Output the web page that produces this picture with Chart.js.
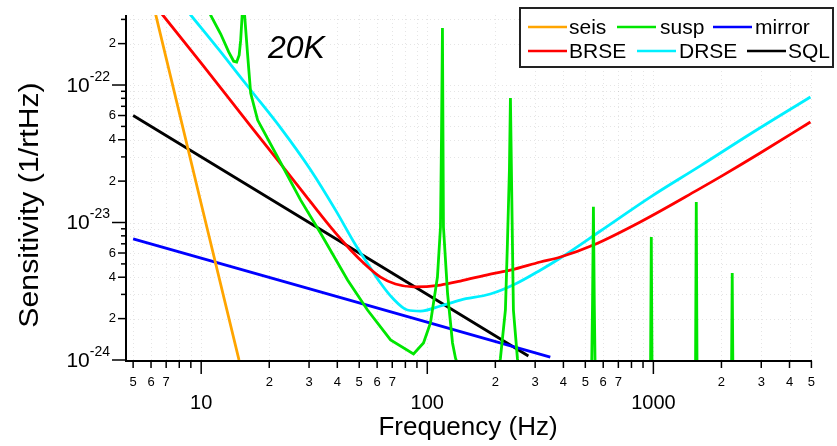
<!DOCTYPE html>
<html><head><meta charset="utf-8">
<script src="https://cdn.jsdelivr.net/npm/chart.js@4.4.1/dist/chart.umd.min.js"></script>
<style>html,body{margin:0;padding:0;background:#fff}#wrap{width:837px;height:446px;position:relative}</style>
</head><body><div id="wrap"><canvas id="c"></canvas></div>
<script>
// ---- data ----
const seisFreq = [6.0, 10, 14.7];
const seisVal  = [4.5e-22, 1.37e-23, 1.0e-24];

const suspFreq = [10.7, 11.0, 12.2, 13.23, 13.92, 14.35, 14.72, 14.95, 15.18, 15.37, 15.56, 16.05, 16.55, 17.77, 22.5, 27.5, 33.7, 44.4, 54.4, 68.8, 86.9, 96.2, 103.3, 110.9, 114.4, 115.5, 116.7, 117.9, 122.9, 129.3, 133.3, 150, 200, 210.6, 221.6, 226.2, 230.8, 233.2, 238.0, 240.4, 250.4, 270, 530, 538, 543, 548, 556, 969, 979, 989, 1533, 1548, 1563, 2210, 2232, 2254, 3000];
const suspVal  = [4.0e-22, 3.23e-22, 2.35e-22, 1.74e-22, 1.49e-22, 1.47e-22, 1.65e-22, 2.12e-22, 3.23e-22, 2.0e-21, 3.23e-22, 1.65e-22, 8.75e-23, 5.56e-23, 2.71e-23, 1.46e-23, 8.39e-24, 3.82e-24, 2.31e-24, 1.40e-24, 1.105e-24, 1.33e-24, 1.86e-24, 4.01e-24, 9.27e-24, 3.79e-23, 2.6e-22, 9.27e-24, 3.07e-24, 1.33e-24, 1.03e-24, 6e-25, 6e-25, 1.03e-24, 2.31e-24, 7.1e-24, 2.41e-23, 8.04e-23, 7.1e-24, 2.31e-24, 1.03e-24, 4e-25, 4e-25, 2.5e-24, 1.30e-23, 2.5e-24, 4e-25, 4e-25, 7.85e-24, 4e-25, 4e-25, 1.41e-23, 4e-25, 4e-25, 4.29e-24, 4e-25, 4e-25];

const mirrorFreq = [5, 50, 350];
const mirrorVal  = [7.6e-24, 2.6e-24, 1.05e-24];

const brseFreq = [6.5, 6.76, 10, 16.55, 27.5, 37.3, 45.8, 53.4, 62.1, 72.3, 86.9, 114.4, 140, 190, 233, 316, 388, 543, 875, 1563, 2037, 2968, 4950];
const brseVal  = [3.5e-22, 3.23e-22, 1.44e-22, 5.03e-23, 1.75e-23, 9.28e-24, 6.31e-24, 4.91e-24, 4.01e-24, 3.57e-24, 3.40e-24, 3.51e-24, 3.75e-24, 4.22e-24, 4.5e-24, 5.16e-24, 5.61e-24, 6.86e-24, 1.01e-23, 1.72e-23, 2.21e-23, 3.20e-23, 5.38e-23];

const drseFreq = [8.5, 8.99, 12.2, 16.55, 22.5, 30.5, 39.3, 48.2, 55.0, 62.1, 70.2, 81.7, 93.3, 114.4, 140, 190, 245, 316, 388, 583, 969, 1612, 2681, 4950];
const drseVal  = [3.62e-22, 3.23e-22, 1.74e-22, 9.2e-23, 4.86e-23, 2.41e-23, 1.23e-23, 6.86e-24, 4.91e-24, 3.63e-24, 2.82e-24, 2.31e-24, 2.27e-24, 2.47e-24, 2.73e-24, 3.02e-24, 3.57e-24, 4.5e-24, 5.52e-24, 8.67e-24, 1.53e-23, 2.58e-23, 4.40e-23, 8.18e-23];

const sqlFreq = [5, 50, 280];
const sqlVal  = [6.0e-23, 6.0e-24, 1.07e-24];

const seriesNames  = ['seis', 'susp', 'mirror', 'BRSE', 'DRSE', 'SQL'];
const seriesColors = ['#ffa500', '#00e600', '#0000ff', '#ff0000', '#00f0ff', '#000000'];

const xTickValues = [5,6,7,8,9,10,20,30,40,50,60,70,80,90,100,200,300,400,500,600,700,800,900,1000,2000,3000,4000,5000];
const xTickText   = ['5','6','7','','','10','2','3','4','5','6','7','','','100','2','3','4','5','6','7','','','1000','2','3','4','5'];
const yTickValues = [1e-24,2e-24,3e-24,4e-24,5e-24,6e-24,7e-24,8e-24,9e-24,1e-23,2e-23,3e-23,4e-23,5e-23,6e-23,7e-23,8e-23,9e-23,1e-22,2e-22,3e-22];
const yTickText   = ['10|-24','2','','4','','6','','','','10|-23','2','','4','','6','','','','10|-22','2',''];

const xTitle = 'Frequency (Hz)';
const yTitle = 'Sensitivity (1/rtHz)';
const noteText = '20K';

// ---- build datasets ----
function pts(f, v){ return f.map((x,i)=>({x:x, y:v[i]})); }
const allF = [seisFreq, suspFreq, mirrorFreq, brseFreq, drseFreq, sqlFreq];
const allV = [seisVal, suspVal, mirrorVal, brseVal, drseVal, sqlVal];
const datasets = seriesNames.map((n,i)=>({
  label: n,
  data: pts(allF[i], allV[i]),
  borderColor: seriesColors[i],
  backgroundColor: seriesColors[i],
  borderWidth: 2.8,
  pointRadius: 0,
  fill: false,
  tension: 0,
  cubicInterpolationMode: (n==='BRSE'||n==='DRSE') ? 'monotone' : 'default'
}));

const FONT = '"Liberation Sans", Arial, Helvetica, sans-serif';

const decor = {
  id: 'decor',
  beforeDatasetsDraw(chart){
    const {ctx, chartArea:a, scales:{x, y}} = chart;
    ctx.save();
    ctx.strokeStyle = 'rgba(0,0,0,0.10)';
    ctx.lineWidth = 1;
    ctx.setLineDash([1,3]);
    xTickValues.forEach(v=>{
      const p = Math.round(x.getPixelForValue(v))+0.5;
      if (p <= a.left+1 || p >= a.right) return;
      ctx.beginPath(); ctx.moveTo(p, a.top); ctx.lineTo(p, a.bottom); ctx.stroke();
    });
    yTickValues.forEach(v=>{
      const p = Math.round(y.getPixelForValue(v))+0.5;
      if (p >= a.bottom-1 || p <= a.top) return;
      ctx.beginPath(); ctx.moveTo(a.left, p); ctx.lineTo(a.right, p); ctx.stroke();
    });
    ctx.restore();
  },
  afterDatasetsDraw(chart){
    const {ctx, chartArea:a, scales:{x, y}} = chart;
    ctx.save();
    // axes
    ctx.strokeStyle = '#000'; ctx.lineWidth = 2; ctx.setLineDash([]);
    ctx.beginPath();
    ctx.moveTo(a.left, a.top); ctx.lineTo(a.left, a.bottom+1); ctx.lineTo(a.right, a.bottom+1);
    ctx.stroke();
    ctx.lineWidth = 1.5;
    ctx.fillStyle = '#000';
    // x ticks
    xTickValues.forEach((v,i)=>{
      const p = x.getPixelForValue(v);
      const t = xTickText[i];
      const major = Math.abs(Math.log10(v) - Math.round(Math.log10(v))) < 1e-9;
      const len = major ? 13 : 7;
      ctx.beginPath(); ctx.moveTo(p, a.bottom+1); ctx.lineTo(p, a.bottom+1+len); ctx.stroke();
      if (!t) return;
      ctx.textAlign = 'center'; ctx.textBaseline = 'middle';
      if (major) { ctx.font = '20px ' + FONT; ctx.fillText(t, p, a.bottom + 43); }
      else { ctx.font = '13px ' + FONT; ctx.fillText(t, p, a.bottom + 22); }
    });
    // y ticks
    yTickValues.forEach((v,i)=>{
      const p = y.getPixelForValue(v);
      const t = yTickText[i];
      const major = t.indexOf('|') >= 0;
      const len = major ? 14 : (t ? 8 : 5);
      ctx.beginPath(); ctx.moveTo(a.left-len, p); ctx.lineTo(a.left, p); ctx.stroke();
      if (!t) return;
      ctx.textBaseline = 'middle'; ctx.textAlign = 'right';
      if (major) {
        const parts = t.split('|');
        ctx.font = '14px ' + FONT;
        const sw = ctx.measureText(parts[1]).width;
        const right = a.left - 16;
        ctx.fillText(parts[1], right, p - 8);
        ctx.font = '21px ' + FONT;
        ctx.fillText(parts[0], right - sw, p + 1);
      } else {
        ctx.font = '13px ' + FONT;
        ctx.fillText(t, a.left - 10, p);
      }
    });
    // titles
    ctx.font = '26px ' + FONT; ctx.textAlign = 'center'; ctx.textBaseline = 'middle';
    ctx.fillText(xTitle, 468, 428);
    ctx.save(); ctx.translate(31, 205); ctx.rotate(-Math.PI/2); ctx.scale(1.12, 1);
    ctx.font = '27px ' + FONT;
    ctx.fillText(yTitle, 0, 0); ctx.restore();
    // note
    ctx.font = 'italic 32px ' + FONT; ctx.textAlign = 'left'; ctx.textBaseline = 'alphabetic';
    ctx.fillText(noteText, 268, 58);
    // legend
    ctx.fillStyle = '#fff';
    ctx.fillRect(520, 8, 313, 59);
    ctx.strokeStyle = '#222'; ctx.lineWidth = 2;
    ctx.strokeRect(520, 8, 313, 59);
    const lay = [[528,569,27],[617,660,27],[713,755,27],[528,569,51],[637,679,51],[747,788,51]];
    chart.data.datasets.forEach((d,i)=>{
      const [lx, tx, ly] = lay[i];
      ctx.strokeStyle = d.borderColor; ctx.lineWidth = 2.5;
      ctx.beginPath(); ctx.moveTo(lx, ly); ctx.lineTo(lx+39, ly); ctx.stroke();
      ctx.fillStyle = '#000'; ctx.font = '21px ' + FONT; ctx.textBaseline = 'middle'; ctx.textAlign='left';
      ctx.fillText(d.label, tx, ly+1);
    });
    ctx.restore();
  }
};

new Chart(document.getElementById('c'), {
  type: 'line',
  data: { datasets },
  options: {
    responsive: true, maintainAspectRatio: false, animation: false,
    layout: { padding: { top: 15, right: 25, left: 0, bottom: 0 } },
    plugins: { legend: { display: false }, tooltip: { enabled: false } },
    scales: {
      x: {
        type: 'logarithmic', min: 4.65, max: 5030,
        grid: { display: false }, border: { display: false },
        ticks: { display: false },
        afterFit(s){ s.height = 86; }
      },
      y: {
        type: 'logarithmic', min: 1e-24, max: 3.23e-22,
        grid: { display: false }, border: { display: false },
        ticks: { display: false },
        afterFit(s){ s.width = 126; }
      }
    }
  },
  plugins: [decor]
});
</script></body></html>
